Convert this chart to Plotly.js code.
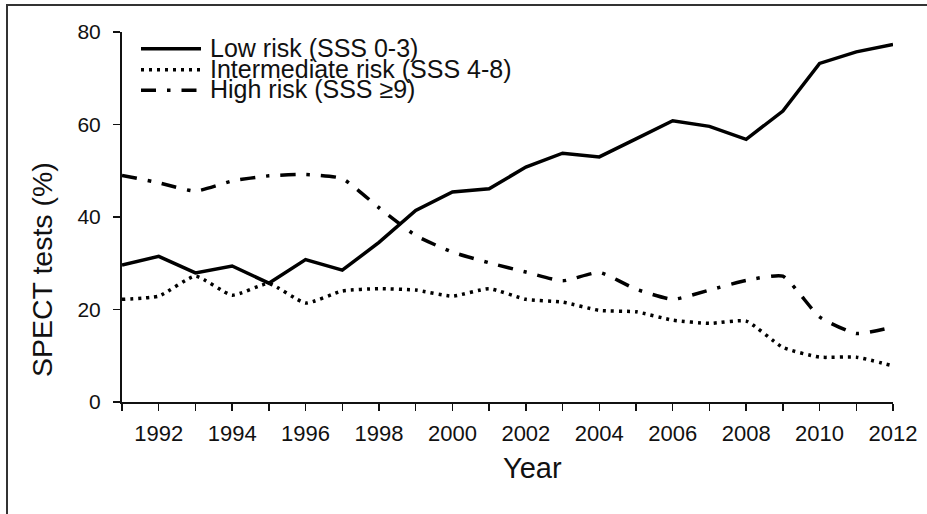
<!DOCTYPE html>
<html>
<head>
<meta charset="utf-8">
<script src="https://cdn.plot.ly/plotly-3.0.1.min.js"></script>
<style>
  html, body { margin: 0; padding: 0; background: #fff; }
  #wrap { position: relative; width: 927px; height: 514px; overflow: hidden; }
  #chart { position: absolute; left: 0; top: 0; width: 927px; height: 514px; }
  #frame { position: absolute; left: 6px; top: 4px; width: 940px; height: 530px;
           border-top: 2px solid #333; border-left: 2px solid #333; pointer-events: none; }
</style>
</head>
<body>
<div id="wrap"><div id="chart"></div><div id="frame"></div></div>
<script>
// ---- data ----
const years = [1991, 1992, 1993, 1994, 1995, 1996, 1997, 1998, 1999, 2000, 2001,
               2002, 2003, 2004, 2005, 2006, 2007, 2008, 2009, 2010, 2011, 2012];
const lowRisk = [29.6, 31.5, 27.9, 29.4, 25.7, 30.8, 28.5, 34.5, 41.4, 45.4, 46.1,
                 50.8, 53.8, 53.0, 56.9, 60.8, 59.6, 56.8, 62.9, 73.2, 75.7, 77.3];
const intermediateRisk = [22.2, 22.9, 27.2, 23.1, 25.6, 21.4, 24.0, 24.5, 24.2, 22.9, 24.5,
                          22.2, 21.6, 19.8, 19.5, 17.7, 17.0, 17.5, 11.8, 9.7, 9.7, 7.8];
const highRisk = [49.0, 47.4, 45.6, 47.8, 48.9, 49.2, 48.3, 42.0, 36.0, 32.4, 30.1,
                  28.1, 26.2, 28.0, 24.4, 22.2, 24.2, 26.3, 27.2, 18.4, 14.8, 16.2];
const seriesNames = ["Low risk (SSS 0-3)", "Intermediate risk (SSS 4-8)", "High risk (SSS \u22659)"];
const xTitle = "Year";
const yTitle = "SPECT tests (%)";

// ---- styling ----
const FONT = '"Liberation Sans", Arial, Helvetica, sans-serif';
const INK = '#111';
const styles = [
  { dash: 'solid', width: 3.5, shape: 'linear' },
  { dash: '3px,5px', width: 3.5, shape: 'spline' },
  { dash: '15px,11px,3.5px,11px', width: 3.5, shape: 'spline' }
];
const series = [lowRisk, intermediateRisk, highRisk];

const traces = series.map((ys, i) => ({
  type: 'scatter', mode: 'lines', x: years, y: ys, name: seriesNames[i],
  line: { color: '#000', width: styles[i].width, dash: styles[i].dash,
          shape: styles[i].shape, smoothing: 0.5 },
  showlegend: false, hoverinfo: 'x+y+name'
}));

// plot area in px: x 122..893, y 32..402
const L = 122, R = 893, T = 32, B = 402;
const px = v => (v - L) / (R - L);
const py = v => (B - v) / (B - T);

const legendRows = [48, 69, 89.5];
const shapes = [];
const annotations = [];
seriesNames.forEach((name, i) => {
  shapes.push({ type: 'line', xref: 'paper', yref: 'paper',
    x0: px(141), x1: px(201), y0: py(legendRows[i] + 0.8), y1: py(legendRows[i] + 0.8),
    line: { color: '#000', width: styles[i].width, dash: styles[i].dash } });
  annotations.push({ xref: 'paper', yref: 'paper', x: px(208), y: py(legendRows[i]),
    xanchor: 'left', yanchor: 'middle', showarrow: false, text: name,
    font: { family: FONT, size: 25, color: INK } });
});
annotations.push({ xref: 'paper', yref: 'paper', x: px(532), y: py(468),
  xanchor: 'center', yanchor: 'middle', showarrow: false, text: xTitle,
  font: { family: FONT, size: 29, color: INK } });
annotations.push({ xref: 'paper', yref: 'paper', x: px(42), y: py(270),
  xanchor: 'center', yanchor: 'middle', showarrow: false, text: yTitle, textangle: -90,
  font: { family: FONT, size: 28.5, color: INK } });

const layout = {
  width: 927, height: 514,
  margin: { l: L, r: 927 - R, t: T, b: 514 - B, pad: 0 },
  paper_bgcolor: '#fff', plot_bgcolor: '#fff',
  font: { family: FONT, size: 21, color: INK },
  showlegend: false,
  xaxis: {
    range: [1991, 2012], tickmode: 'linear', tick0: 1992, dtick: 2,
    ticks: 'outside', ticklen: 7, tickwidth: 1.5, tickcolor: INK,
    minor: { tickmode: 'linear', tick0: 1991, dtick: 1, ticks: 'outside', ticklen: 7, tickwidth: 1.5, tickcolor: INK },
    showline: true, linecolor: INK, linewidth: 2, showgrid: false, zeroline: false,
    ticklabelstandoff: 4, tickfont: { family: FONT, size: 22, color: INK }
  },
  yaxis: {
    range: [0, 80], tickmode: 'linear', tick0: 0, dtick: 20,
    ticks: 'outside', ticklen: 7, tickwidth: 1.5, tickcolor: INK,
    showline: true, linecolor: INK, linewidth: 2, showgrid: false, zeroline: false,
    ticklabelstandoff: 8, tickfont: { family: FONT, size: 21, color: INK }
  },
  shapes: shapes,
  annotations: annotations
};

Plotly.newPlot('chart', traces, layout, { staticPlot: true, displayModeBar: false });
</script>
</body>
</html>
